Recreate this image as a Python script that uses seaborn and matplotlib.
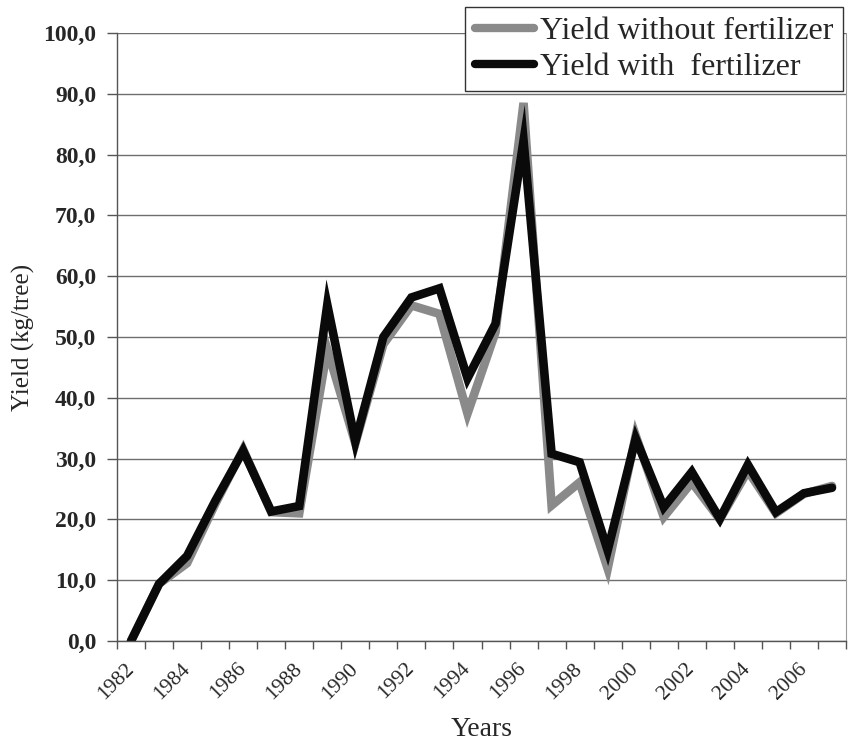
import matplotlib
matplotlib.use("Agg")
import matplotlib.pyplot as plt
import seaborn as sns
import pandas as pd
import numpy as np
from matplotlib.ticker import FixedLocator, FuncFormatter

years = list(range(1982, 2008))
yield_without = [0.0, 9.4, 12.8, 22.5, 31.5, 21.2, 21.0, 48.0, 32.5, 48.8, 55.2, 53.8, 37.4,
                 50.8, 88.5, 22.3, 26.1, 11.9, 33.8, 20.4, 26.1, 20.0, 28.0, 21.0, 24.2, 25.5]
yield_with = [0.0, 9.4, 14.0, 23.0, 31.3, 21.3, 22.2, 55.3, 32.8, 50.0, 56.5, 58.0, 43.2,
              52.2, 82.3, 30.8, 29.4, 14.9, 33.3, 22.0, 27.8, 20.1, 29.0, 21.2, 24.3, 25.2]
label_without = "Yield without fertilizer"
label_with = "Yield with  fertilizer"
y_ticks = [0, 10, 20, 30, 40, 50, 60, 70, 80, 90, 100]
x_label_years = [str(y) for y in range(1982, 2007, 2)]

sns.set_theme(style="white")
plt.rcParams["font.family"] = ["Liberation Serif", "DejaVu Serif"]

df = pd.DataFrame({"idx": np.arange(len(years)), "year": years,
                   "without": yield_without, "with": yield_with})

fig = plt.figure(figsize=(8.49, 7.41), dpi=100)
ax = fig.add_axes([117/849, 1-641/741, (846-117)/849, (641-33)/741])

sns.lineplot(data=df, x="idx", y="without", ax=ax, color="#8a8a8a", linewidth=6.2,
             label=label_without, solid_joinstyle="miter")
sns.lineplot(data=df, x="idx", y="with", ax=ax, color="#0a0a0a", linewidth=6.2,
             label=label_with, solid_joinstyle="miter")

ax.set_xlim(-0.5, len(years) - 0.5)
ax.set_ylim(0, 100)

# y axis
ax.yaxis.set_major_locator(FixedLocator(y_ticks))
ax.yaxis.set_major_formatter(FuncFormatter(lambda v, p: f"{v:.1f}".replace(".", ",")))
ax.grid(axis="y", color="#6e6e6e", linewidth=1.0)
ax.set_axisbelow(True)

# x axis: labels at every other category, tick marks between categories
label_pos = [years.index(int(s)) for s in x_label_years]
ax.set_xticks(label_pos)
ax.set_xticklabels(x_label_years, rotation=45, ha="right", va="center",
                   rotation_mode="anchor", fontsize=15.5)
ax.set_xticks(np.arange(-0.5, len(years), 1.0), minor=True)
ax.tick_params(axis="x", which="major", length=0, pad=18)
ax.tick_params(axis="x", which="minor", length=6, width=1, color="#555555", direction="out",
               bottom=True)
ax.tick_params(axis="y", which="major", length=7, width=1, color="#555555", direction="out",
               left=True, labelsize=17, pad=8)
for t in ax.get_yticklabels():
    t.set_fontweight("bold")

ax.spines["top"].set_visible(False)
ax.spines["right"].set_color("#9a9a9a")
ax.spines["right"].set_linewidth(0.8)
ax.spines["left"].set_color("#555555")
ax.spines["bottom"].set_color("#555555")
ax.spines["left"].set_linewidth(1.0)
ax.spines["bottom"].set_linewidth(1.0)

ax.set_xlabel("Years", fontsize=20, labelpad=10)
ax.set_ylabel("Yield (kg/tree)", fontsize=18, labelpad=6)

leg = ax.legend(loc="upper right", bbox_to_anchor=(843/849, 1-7/741),
                bbox_transform=fig.transFigure, borderaxespad=0, fontsize=23,
                frameon=True, fancybox=False, edgecolor="#333333", framealpha=1,
                handlelength=1.85, handletextpad=0.2, labelspacing=0.2,
                borderpad=0.3)
leg.get_frame().set_linewidth(1.0)
for ln in leg.get_lines():
    ln.set_linewidth(6)

fig.savefig("out.png", dpi=100)
